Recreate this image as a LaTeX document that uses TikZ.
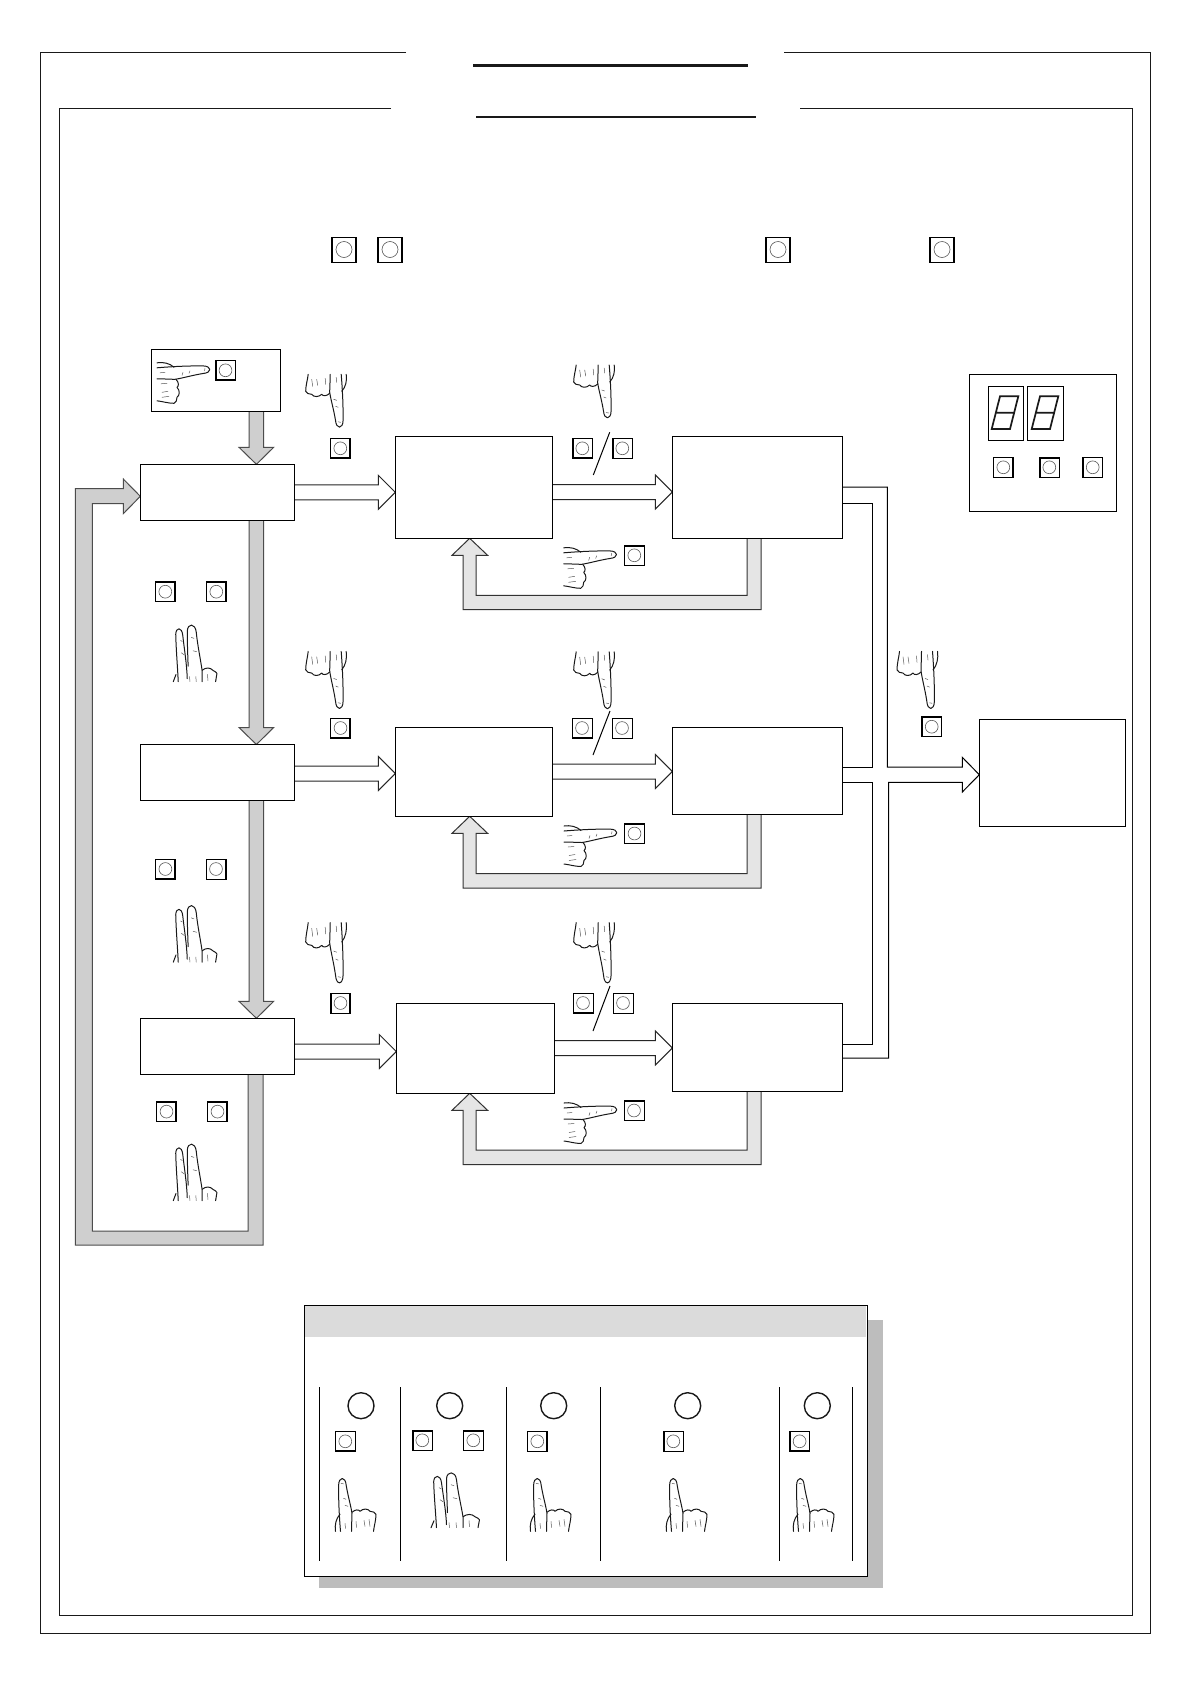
\documentclass[tikz,border=0pt]{standalone}
\usetikzlibrary{calc,backgrounds}
\def\keyedgel{\draw[line width=2.4] (path picture bounding box.south west)--(path picture bounding box.north west);}
\def\keyedger{\draw[line width=2.4] (path picture bounding box.south east)--(path picture bounding box.north east);}
\def\keyedget{\draw[line width=2.4] (path picture bounding box.north west)--(path picture bounding box.north east);}
\def\keyedgeb{\draw[line width=2.4] (path picture bounding box.south west)--(path picture bounding box.south east);}
\tikzset{
  box/.style={draw=black,line width=1,fill=white,inner sep=0,outer sep=0,rectangle},
  key/.style={rectangle,draw=black,line width=.9,fill=white,inner sep=0,outer sep=0,minimum size=20,
    path picture={\draw[black!65,line width=.6] (path picture bounding box.center) circle[radius=6.4];
      \foreach \e in {#1}{\csname keyedge\e\endcsname}}},
  bigkey/.style={rectangle,draw=black,line width=.9,fill=white,inner sep=0,outer sep=0,minimum size=25,
    path picture={\draw[black!65,line width=.6] (path picture bounding box.center) circle[radius=8];
      \foreach \e in {#1}{\csname keyedge\e\endcsname}}},
  led/.style={circle,draw=black!90,line width=1.4,fill=white,minimum size=26,inner sep=0,outer sep=0},
  frameline/.style={draw=black!90,line width=1},
  blockw/.style={draw=black!85,line width=1,fill=white},
  blockg/.style={draw=black!70,line width=1,fill=black!19},
  blockl/.style={draw=black!80,line width=1,fill=black!10},
  conn/.style={draw=black,line width=1},
  handline/.style={draw=black!90,line width=1,line cap=round,line join=round},
  handfine/.style={draw=black!65,line width=.5,line cap=round},
  seg/.style={draw=black!90,line width=1.7,line join=miter},
  handup/.pic={
    \draw[handline] (5.5,53) .. controls (4,35) and (3.5,20) .. (3.6,7) .. controls (3.8,-2) and (10.5,-2.2) .. (11.2,7) .. controls (13,18) and (16,28) .. (17,35) .. controls (17,40) and (16.5,46) .. (16.5,53);
    \draw[handline] (17,34) .. controls (20,31) and (24,31) .. (25,33) .. controls (28,30) and (33,30) .. (35,33) .. controls (38,33) and (40,34) .. (41,36) .. controls (41,42) and (39,48) .. (38.5,53);
    \draw[handline] (5,36) .. controls (1,40) and (-.5,47) .. (.5,53);
    \draw[handfine] (21,43)--(21.5,49) (29,42)--(30,48) (34,41)--(35,48) (10,45)--(10.5,50) (8.5,20)--(11,21) (10,27)--(13,28) (6,5)--(8.5,5.5);
  },
  twofing/.pic={
    \draw[handline] (5.5,55) .. controls (4.5,38) and (3,22) .. (2.7,9) .. controls (3,2) and (9.5,1.5) .. (10.5,10) .. controls (12,22) and (15,38) .. (15.5,52);
    \draw[handline] (16.5,40) .. controls (16,28) and (15.5,16) .. (15.5,6) .. controls (16,-2) and (24.5,-2) .. (25.5,7) .. controls (27,20) and (30,32) .. (32,44) -- (32,55);
    \draw[handline] (32,44) .. controls (36,41) and (41,41) .. (44,44) .. controls (46,45) and (48,46) .. (48.5,47) -- (47,55);
    \draw[handline] (3,48) -- (0,55);
    \draw[handfine] (8,15)--(10,16) (9,27)--(12,29) (20,12)--(23,13) (22,25)--(26,26) (18,50)--(18.5,55) (38,48)--(38.5,54) (25,50)--(25.5,55);
  },
}
\newcommand\bx[5]{\pgfmathsetmacro\bw{#4-#2}\pgfmathsetmacro\bh{#5-#3}\pgfmathsetmacro\bcx{(#2+#4)/2}\pgfmathsetmacro\bcy{(#3+#5)/2}%
  \node[box,minimum width=\bw,minimum height=\bh] (#1) at (\bcx,\bcy) {};}
\newcommand\whitearrow[3]{\pgfmathsetmacro\ya{#3-7.5}\pgfmathsetmacro\yb{#3+7.5}\pgfmathsetmacro\yh{#3-17}\pgfmathsetmacro\yi{#3+17}%
  \draw[blockw] (#1.east |- 0,\ya) -- ($(#2.west |- 0,\ya)+(-17,0)$) -- ($(#2.west |- 0,\yh)+(-17,0)$) -- (#2.west |- 0,#3) -- ($(#2.west |- 0,\yi)+(-17,0)$) -- ($(#2.west |- 0,\yb)+(-17,0)$) -- (#1.east |- 0,\yb);}
\newcommand\graydown[2]{%
  \filldraw[blockg] (249,0 |- #1.south) -- ($(249,0 |- #2.north)+(0,-17)$) -- ($(239,0 |- #2.north)+(0,-17)$) -- (256.4,0 |- #2.north) -- ($(273.7,0 |- #2.north)+(0,-17)$) -- ($(263.7,0 |- #2.north)+(0,-17)$) -- (263.7,0 |- #1.south);}
\newcommand\backarrow[3]{\pgfmathsetmacro\yc{#3-14.4}%
  \filldraw[blockl] (761,0 |- #1.south) -- (761,#3) -- (463,#3) -- ($(463,0 |- #2.south)+(0,17)$) -- ($(452,0 |- #2.south)+(0,17)$) -- (469.7,0 |- #2.south) -- ($(487.6,0 |- #2.south)+(0,17)$) -- ($(476,0 |- #2.south)+(0,17)$) -- (476,\yc) -- (747,\yc) -- (747,0 |- #1.south);}
\begin{document}
\begin{tikzpicture}[x=1pt,y=-1pt]
\useasboundingbox (0,0) rectangle (1190,1684);
\begin{pgfonlayer}{background}
\fill[white] (0,0) rectangle (1190,1684);
\end{pgfonlayer}
% frames
\draw[frameline] (406,52.6) -- (40.8,52.6) -- (40.8,1633) -- (1150,1633) -- (1150,52.6) -- (784,52.6);
\draw[frameline] (391,108.5) -- (59,108.5) -- (59,1615) -- (1132.5,1615) -- (1132.5,108.5) -- (800,108.5);
\draw[line width=2.6,black!90] (473,65.5) -- (748,65.5);
\draw[line width=2.1,black!90] (476,117) -- (756,117);
% top keys
\node[bigkey={l,r}] (t1) at (344,249.5) {};
\node[bigkey={l,r}] (t2) at (390,249.5) {};
\node[bigkey={l,r}] (t3) at (778,249.5) {};
\node[bigkey={l,r}] (t4) at (942,249.5) {};
% boxes
\bx{S}{151.3}{349.3}{280.3}{411.3}
\bx{A1}{140.3}{464.3}{294.7}{520.3}
\bx{A2}{140.3}{744.5}{294.7}{800.5}
\bx{A3}{140.3}{1018.3}{294.7}{1074.3}
\bx{B1}{395.3}{436.7}{552.7}{538.3}
\bx{B2}{395.3}{727.3}{552.7}{816.3}
\bx{B3}{396.3}{1003.7}{554}{1093.3}
\bx{C1}{672.3}{436.3}{842.7}{538.3}
\bx{C2}{672.3}{727.3}{842.7}{814.3}
\bx{C3}{672.3}{1003.7}{842.7}{1091.3}
\bx{D}{979.3}{719.3}{1125.7}{826.3}
\begin{pgfonlayer}{background}
% gray arrows
\graydown{S}{A1}
\graydown{A1}{A2}
\graydown{A2}{A3}
\filldraw[blockg] (263,0 |- A3.south) -- (263,1245) -- (75.3,1245) -- (75.3,488.7) -- (123.3,488.7) -- (123.3,479) -- (A1.west |- 0,496.3) -- (123.3,513.7) -- (123.3,503.7) -- (92.3,503.7) -- (92.3,1231) -- (248,1231) -- (248,0 |- A3.south);
% white arrows
\whitearrow{A1}{B1}{492.3}
\whitearrow{B1}{C1}{492}
\whitearrow{A2}{B2}{773.5}
\whitearrow{B2}{C2}{771.5}
\whitearrow{A3}{B3}{1051.5}
\whitearrow{B3}{C3}{1048}
% return arrows
\backarrow{C1}{B1}{609.7}
\backarrow{C2}{B2}{888}
\backarrow{C3}{B3}{1164.5}
% connectors to D
\draw[conn] (C1.east |- 0,487) -- (887.3,487) -- (887.3,767) -- (962.3,767) -- (962.3,757.3) -- (D.west |- 0,774.7) -- (962.3,792) -- (962.3,782.3) -- (888.7,782.3) -- (888.7,1058) -- (C3.east |- 0,1058);
\draw[conn] (C1.east |- 0,503.3) -- (872.3,503.3) -- (872.3,767) -- (C2.east |- 0,767);
\draw[conn] (C2.east |- 0,782.3) -- (872.3,782.3) -- (872.3,1044) -- (C3.east |- 0,1044);
\end{pgfonlayer}
% keys
\node[key={l,b}] (k0) at (225.5,370.3) {};
\node[key={r,b}] (k1) at (340.3,448.3) {};
\node[key={r,b}] (k2) at (340.5,728) {};
\node[key={r,l}] (k3) at (340.5,1003) {};
\node[key={t,r,b}] (k4) at (165.3,591.7) {};
\node[key={t,r}] (k5) at (216.3,591.7) {};
\node[key={t,r,b}] (k6) at (165.4,869) {};
\node[key={t,r}] (k7) at (216,869) {};
\node[key={t,r}] (k8) at (166.5,1111.6) {};
\node[key={t,r}] (k9) at (217.5,1111.6) {};
\node[key={l,b}] (m1) at (582.3,448.3) {};
\node[key={l}] (m2) at (622.3,448.3) {};
\node[key={l,b}] (m3) at (582,728) {};
\node[key={l}] (m4) at (622,728) {};
\node[key={l,b}] (m5) at (583,1003) {};
\node[key={l}] (m6) at (623,1003) {};
\draw[conn] (609.7,432.3) -- (593.3,475);
\draw[conn] (610,711) -- (593,755);
\draw[conn] (610,986) -- (593,1031);
\node[key={t}] (r1) at (634.3,555.3) {};
\node[key={t}] (r2) at (634.5,833.5) {};
\node[key={t}] (r3) at (634,1110.5) {};
\node[key={t,l,b,r}] (k10) at (931.7,726.7) {};
% panel
\bx{P}{969.3}{374.3}{1116.3}{511.7}
\bx{D1}{988.3}{386.3}{1023.3}{440.3}
\bx{D2}{1027.3}{386.3}{1063.3}{440.3}
\draw[seg] (1000,396.3) -- (1018.3,396.3) -- (1010,429) -- (991.7,429) -- cycle (995.8,412.7) -- (1014.2,412.7);
\draw[seg] (1040,396.3) -- (1058.3,396.3) -- (1050,429) -- (1031.7,429) -- cycle (1035.8,412.7) -- (1054.2,412.7);
\node[key={r}] (p1) at (1003.3,467.3) {};
\node[key={t,l}] (p2) at (1049.3,467.3) {};
\node[key={l}] (p3) at (1092.7,467.3) {};
% hands
\pic[rotate=-90] (hs) at (210,362.3) {handup};
\pic[rotate=180] (h1) at (346.7,427.3) {handup};
\pic[rotate=180,yscale=1.08] (h2) at (346.7,708.7) {handup};
\pic[rotate=180,yscale=1.14] (h3) at (346.7,983) {handup};
\pic[rotate=180] (h4) at (614.7,418) {handup};
\pic[rotate=180,yscale=1.08] (h5) at (614.7,709) {handup};
\pic[rotate=180,yscale=1.14] (h6) at (614.7,983) {handup};
\pic[rotate=180,yscale=1.08] (h7) at (938,708.7) {handup};
\pic[rotate=-90] (h8) at (616.7,547.3) {handup};
\pic[rotate=-90] (h9) at (617,825.5) {handup};
\pic[rotate=-90] (h10) at (617,1102.5) {handup};
\pic[xscale=.9,yscale=1.03] (f1) at (173.3,625) {twofing};
\pic[xscale=.9,yscale=1.03] (f2) at (173.3,905.5) {twofing};
\pic[xscale=.9,yscale=1.03] (f3) at (173.3,1144) {twofing};
% legend
\fill[black!26] (319,1320) rectangle (883,1587.7);
\bx{L}{304.3}{1305.3}{867}{1576.3}
\fill[black!14] (305.2,1306.2) rectangle (866.1,1336.7);
\draw[conn] (319.3,1387) -- (319.3,1560.7);
\draw[conn] (400.3,1387) -- (400.3,1560.7);
\draw[conn] (506.3,1387) -- (506.3,1560.7);
\draw[conn] (600.3,1387) -- (600.3,1560.7);
\draw[conn] (779,1387) -- (779,1560.7);
\draw[conn] (852.5,1387) -- (852.5,1560.7);
\node[led] (l1) at (361,1405.7) {};
\node[led] (l2) at (449.7,1405.7) {};
\node[led] (l3) at (553.7,1405.7) {};
\node[led] (l4) at (687.7,1405.7) {};
\node[led] (l5) at (817.3,1405.7) {};
\node[key={b}] (q1) at (345.3,1441.3) {};
\node[key={t,l}] (q2) at (422.3,1440.3) {};
\node[key={t}] (q3) at (473.3,1440.3) {};
\node[key={r}] (q4) at (537.3,1441.3) {};
\node[key={l}] (q5) at (673.3,1441.3) {};
\node[key={l,b}] (q6) at (799.6,1441.3) {};
\pic (u1) at (335,1478.3) {handup};
\pic (u2) at (431,1472.7) {twofing};
\pic (u3) at (530,1478.3) {handup};
\pic (u4) at (666,1478.3) {handup};
\pic (u5) at (793,1478.3) {handup};
\end{tikzpicture}
\end{document}
